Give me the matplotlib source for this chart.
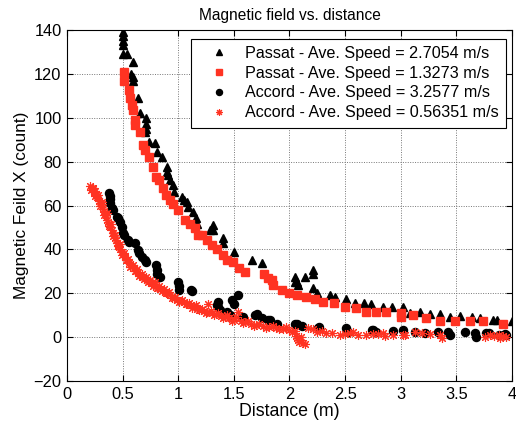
import matplotlib
matplotlib.use("Agg")
import matplotlib.pyplot as plt

plt.rcParams['font.family'] = ['Liberation Sans', 'DejaVu Sans']

# Passat, average speed 2.7054 m/s
passat_fast_x = [0.50, 0.503, 0.506, 0.506, 0.50, 0.537, 0.59, 0.578, 0.59, 0.59,
                 0.64, 0.66, 0.71, 0.71, 0.71, 0.70, 0.74, 0.79, 0.81, 0.85,
                 0.90, 0.90, 0.91, 0.93, 0.955, 0.96, 1.03, 1.05, 1.076, 1.09,
                 1.135, 1.16, 1.17, 1.285, 1.31, 1.315, 1.40, 1.405, 1.50, 1.66,
                 1.75, 2.05, 2.05, 2.065, 2.08, 2.14, 2.21, 2.21, 2.21, 2.25,
                 2.36, 2.41, 2.51, 2.59, 2.67, 2.73, 2.84, 2.92, 3.02, 3.08,
                 3.17, 3.26, 3.35, 3.44, 3.53, 3.64, 3.71, 3.83, 3.87, 4.0]
passat_fast_y = [139.2, 137.5, 135.0, 133.0, 129.0, 129.0, 125.5, 120.0, 118.7, 117.0,
                 109.0, 102.0, 99.7, 97.4, 95.0, 93.6, 89.0, 88.3, 84.5, 82.2,
                 77.7, 75.4, 73.9, 71.6, 69.3, 66.3, 64.0, 62.5, 61.7, 59.4,
                 57.1, 54.1, 51.8, 48.8, 51.0, 48.8, 45.0, 42.7, 38.9, 35.1,
                 33.6, 27.5, 25.2, 25.2, 23.7, 27.5, 30.5, 29.0, 22.2, 19.9,
                 19.1, 18.4, 17.2, 15.6, 15.6, 14.9, 13.8, 13.8, 13.8, 11.1,
                 11.5, 10.5, 10.5, 9.3, 9.6, 9.0, 8.5, 7.8, 7.8, 7.4]

# Passat, average speed 1.3273 m/s
passat_slow_x = [0.512, 0.512, 0.56, 0.566, 0.584, 0.596, 0.614, 0.614, 0.66, 0.68,
                 0.70, 0.74, 0.77, 0.80, 0.83, 0.86, 0.89, 0.926, 0.955, 1.0,
                 1.06, 1.106, 1.15, 1.18, 1.21, 1.256, 1.30, 1.345, 1.405, 1.435,
                 1.495, 1.55, 1.60, 1.77, 1.81, 1.84, 1.855, 1.93, 2.0, 2.07,
                 2.15, 2.23, 2.30, 2.40, 2.50, 2.60, 2.69, 2.78, 2.87, 3.0,
                 3.0, 3.11, 3.23, 3.35, 3.49, 3.62, 3.74, 3.92]
passat_slow_y = [120.7, 116.7, 112.6, 109.1, 105.8, 103.5, 99.0, 96.7, 93.4, 87.6,
                 85.3, 82.2, 77.7, 73.1, 71.6, 67.8, 64.8, 62.5, 60.6, 57.9,
                 53.4, 51.8, 49.6, 46.5, 46.5, 44.2, 42.0, 40.4, 37.4, 35.1,
                 34.3, 31.3, 29.8, 29.0, 26.8, 26.0, 23.7, 21.7, 20.2, 19.2,
                 18.4, 17.2, 15.8, 15.4, 13.8, 13.5, 11.3, 11.3, 11.3, 10.8,
                 9.3, 10.0, 8.5, 7.4, 7.4, 7.4, 7.4, 6.2]

# Accord, average speed 3.2577 m/s
accord_fast_x = [0.38, 0.385, 0.387, 0.39, 0.40, 0.41, 0.447, 0.46, 0.476, 0.49,
                 0.50, 0.51, 0.55, 0.56, 0.61, 0.64, 0.65, 0.67, 0.70, 0.71,
                 0.80, 0.81, 0.81, 0.836, 1.0, 1.01, 1.01, 1.11, 1.12, 1.345,
                 1.36, 1.36, 1.375, 1.405, 1.44, 1.465, 1.48, 1.50, 1.54, 1.585,
                 1.69, 1.705, 1.75, 1.81, 1.825, 1.885, 2.05, 2.065, 2.11, 2.26,
                 2.27, 2.51, 2.53, 2.74, 2.75, 2.78, 2.93, 3.02, 3.13, 3.22,
                 3.34, 3.43, 3.44, 3.58, 3.67, 3.68, 3.77, 3.79, 3.88, 3.94, 3.95]
accord_fast_y = [65.5, 64.5, 63.2, 61.0, 59.0, 57.9, 54.9, 54.5, 52.6, 50.3,
                 47.3, 46.5, 44.2, 43.5, 42.7, 39.7, 38.5, 36.6, 35.1, 34.3,
                 32.8, 30.5, 29.0, 27.5, 25.2, 23.5, 21.4, 21.4, 21.0, 14.6,
                 16.1, 13.8, 12.3, 10.8, 11.5, 10.0, 16.9, 15.0, 19.2, 9.3,
                 10.0, 10.5, 8.5, 7.8, 7.8, 6.2, 6.2, 6.2, 5.0, 4.0,
                 4.7, 4.0, 2.4, 3.2, 3.2, 2.4, 2.9, 3.2, 2.4, 2.0,
                 2.4, 2.4, 0.9, 2.4, 1.7, 0.1, 1.7, 1.7, 0.9, 1.4, 0.9]

# Accord, average speed 0.56351 m/s
accord_slow_x = [0.21, 0.22, 0.23, 0.24, 0.25, 0.26, 0.27, 0.28, 0.29, 0.30,
                 0.31, 0.32, 0.33, 0.34, 0.35, 0.36, 0.37, 0.38, 0.39, 0.40,
                 0.41, 0.42, 0.43, 0.44, 0.45, 0.46, 0.47, 0.48, 0.49, 0.50,
                 0.52, 0.54, 0.56, 0.58, 0.60, 0.62, 0.64, 0.66, 0.68, 0.70,
                 0.72, 0.74, 0.76, 0.78, 0.80, 0.82, 0.84, 0.86, 0.88, 0.90,
                 0.93, 0.96, 0.99, 1.02, 1.05, 1.08, 1.11, 1.14, 1.17, 1.20,
                 1.23, 1.26, 1.27, 1.30, 1.34, 1.38, 1.42, 1.46, 1.50, 1.54,
                 1.56, 1.60, 1.65, 1.70, 1.76, 1.82, 1.88, 1.94, 2.00, 2.05,
                 2.06, 2.07, 2.08, 2.09, 2.10, 2.12, 2.14, 2.17, 2.21, 2.25,
                 2.29, 2.33, 2.38, 2.45, 2.50, 2.54, 2.57, 2.62, 2.69, 2.75,
                 2.80, 2.84, 2.86, 2.93, 3.02, 3.04, 3.13, 3.19, 3.26, 3.35,
                 3.37, 3.76, 3.80, 3.84, 3.88, 3.89, 3.92, 3.95,
                 0.215, 0.235, 0.255, 0.275, 0.295, 0.315, 0.335, 0.355, 0.375, 0.395,
                 0.415, 0.435, 0.455, 0.475, 0.495, 0.51, 0.53, 0.55, 0.57, 0.59,
                 0.61, 0.63, 0.65, 0.67, 0.69, 0.71, 0.73, 0.75, 0.77, 0.79,
                 0.81, 0.83, 0.85, 0.87, 0.89, 0.915, 0.945, 0.975, 1.005, 1.035,
                 1.065, 1.095, 1.125, 1.155, 1.185, 1.215, 1.245, 1.29, 1.32, 1.36,
                 1.40, 1.44, 1.48, 1.52, 1.58, 1.63, 1.68, 1.73, 1.79, 1.85,
                 1.91, 1.97, 2.02]
accord_slow_y = [68.9, 68.0, 67.5, 66.0, 66.5, 65.0, 64.0, 63.5, 62.0, 61.0,
                 60.5, 58.5, 57.5, 56.0, 55.5, 53.5, 52.5, 51.5, 50.0, 49.0,
                 47.5, 46.5, 45.0, 44.5, 43.0, 42.0, 41.0, 40.0, 39.0, 38.0,
                 36.5, 35.0, 34.0, 32.5, 31.5, 30.0, 29.5, 28.5, 27.5, 27.0,
                 26.0, 25.5, 24.5, 24.0, 23.5, 22.5, 22.0, 21.5, 20.5, 20.0,
                 19.0, 18.0, 17.0, 16.5, 16.0, 15.0, 14.5, 14.0, 13.0, 12.5,
                 12.0, 11.5, 15.0, 11.0, 10.5, 9.5, 9.0, 8.5, 8.0, 11.5,
                 7.5, 7.0, 6.0, 5.5, 5.0, 4.5, 4.0, 3.8, 3.2, 3.0,
                 0.5, -0.5, -1.5, -2.0, 0.0, -2.5, -3.0, 4.0, 3.5, 2.5,
                 3.0, 2.0, 2.0, 1.0, 1.5, 2.0, 2.4, 1.0, 0.9, 1.2,
                 1.5, 1.7, 0.5, 1.0, 0.9, 0.8, 2.4, 1.7, 1.2, 0.8,
                 -0.5, 0.2, 0.9, 0.5, 0.9, -0.5, 0.4, 0.1,
                 67.0, 68.0, 64.5, 65.0, 60.0, 61.5, 55.5, 56.5, 50.5, 51.5,
                 46.0, 46.5, 41.5, 42.5, 37.5, 38.5, 35.0, 35.5, 32.0, 33.0,
                 30.0, 31.0, 28.0, 29.0, 26.5, 27.5, 25.0, 26.0, 23.5, 25.0,
                 22.5, 23.5, 21.0, 22.0, 20.0, 20.5, 18.0, 18.5, 16.0, 17.0,
                 15.0, 15.5, 13.5, 14.5, 12.5, 13.0, 11.0, 12.0, 10.0, 11.0,
                 8.5, 10.0, 7.5, 9.0, 6.5, 7.5, 5.0, 6.0, 4.0, 5.0,
                 3.5, 4.5, 2.5]

labels = ["Passat - Ave. Speed = 2.7054 m/s",
          "Passat - Ave. Speed = 1.3273 m/s",
          "Accord - Ave. Speed = 3.2577 m/s",
          "Accord - Ave. Speed = 0.56351 m/s"]

x_ticks = [0, 0.5, 1, 1.5, 2, 2.5, 3, 3.5, 4]
x_tick_labels = ["0", "0.5", "1", "1.5", "2", "2.5", "3", "3.5", "4"]
y_ticks = [-20, 0, 20, 40, 60, 80, 100, 120, 140]

red = "#ff3322"

fig = plt.figure(figsize=(5.16, 4.30), dpi=100)
ax = fig.add_axes([0.130, 0.114, 0.862, 0.816])

ax.plot(passat_fast_x, passat_fast_y, linestyle="none", marker="^",
        markersize=5.8, color="black", label=labels[0])
ax.plot(passat_slow_x, passat_slow_y, linestyle="none", marker="s",
        markersize=5.8, color=red, label=labels[1])
ax.plot(accord_fast_x, accord_fast_y, linestyle="none", marker="o",
        markersize=5.8, color="black", label=labels[2])
ax.plot(accord_slow_x, accord_slow_y, linestyle="none", marker=(8, 2, 0),
        markersize=6.5, markeredgewidth=0.8, color=red, label=labels[3])

ax.set_xlim(0, 4)
ax.set_ylim(-20, 140)
ax.set_xticks(x_ticks)
ax.set_xticklabels(x_tick_labels)
ax.set_yticks(y_ticks)

ax.grid(True, linestyle=(0, (1, 1.5)), color="#777777", linewidth=0.7)
ax.set_axisbelow(True)
ax.tick_params(direction="in", top=True, right=True, length=4,
               labelsize=11.8, width=0.8, pad=4)
for sp in ax.spines.values():
    sp.set_linewidth(0.8)

ax.set_title("Magnetic field vs. distance", fontsize=11.2, pad=7)
ax.set_xlabel("Distance (m)", fontsize=12.8, labelpad=1)
ax.set_ylabel("Magnetic Feild X (count)", fontsize=12.4, labelpad=3)

leg = ax.legend(loc="upper right", bbox_to_anchor=(0.9865, 0.976),
                borderaxespad=0, fontsize=11.6, frameon=True, fancybox=False,
                edgecolor="black", framealpha=1, markerscale=0.75,
                handlelength=2.6, handletextpad=0.3, labelspacing=0.3,
                borderpad=0.45)
leg.get_frame().set_linewidth(0.8)

fig.savefig("out.png", dpi=100)
